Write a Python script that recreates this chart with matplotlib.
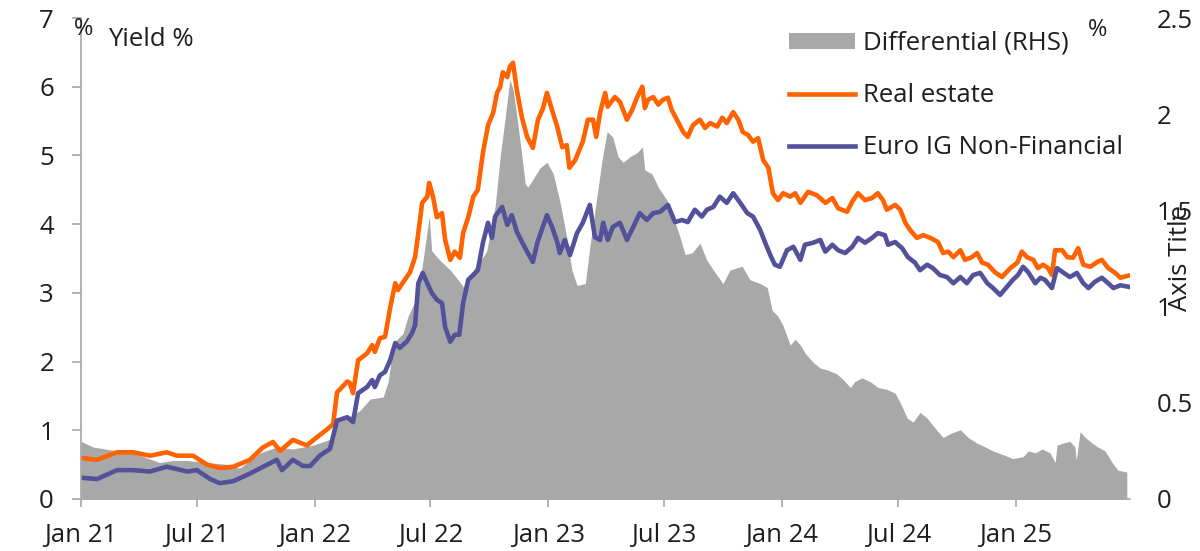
import matplotlib
matplotlib.use("Agg")
import matplotlib.pyplot as plt
import pandas as pd

# ---------------- data ----------------
start = pd.Timestamp("2021-01-01")

orange_days = [0,25,56,81,108,134,150,175,197,217,
               238,264,284,300,311,331,353,366,384,394,
               400,416,420,425,433,447,455,459,467,475,
               483,491,495,506,514,522,527,533,541,544,
               550,556,564,569,577,584,592,597,605,613,
               620,628,636,644,650,655,659,666,670,675,
               681,689,697,702,706,714,722,728,736,744,
               752,759,763,772,780,784,792,800,805,811,
               819,823,834,842,853,861,869,877,881,886,
               894,902,909,917,923,931,941,948,956,967,
               975,983,994,1002,1009,1019,1027,1034,1042,1050,
               1058,1066,1074,1081,1089,1097,1108,1116,1124,1136,
               1150,1163,1174,1183,1197,1205,1214,1225,1236,1245,
               1253,1259,1272,1280,1288,1295,1306,1316,1327,1339,
               1347,1355,1363,1374,1381,1392,1400,1408,1417,1428,
               1439,1452,1463,1470,1478,1488,1495,1503,1511,1517,
               1522,1533,1541,1550,1558,1566,1577,1588,1595,1605,
               1616,1624,1636]
real_estate = [0.60,0.57,0.68,0.68,0.63,0.68,0.63,0.63,0.50,0.45,
               0.47,0.57,0.75,0.83,0.70,0.86,0.78,0.88,1.01,1.09,
               1.55,1.71,1.69,1.54,2.02,2.12,2.24,2.14,2.34,2.36,
               2.78,3.14,3.04,3.19,3.30,3.52,3.87,4.31,4.40,4.60,
               4.40,4.10,4.16,3.77,3.48,3.60,3.51,3.87,4.10,4.40,
               4.50,5.04,5.44,5.62,5.91,6.00,6.21,6.14,6.29,6.35,
               5.95,5.55,5.27,5.18,5.11,5.52,5.69,5.91,5.66,5.42,
               5.12,5.15,4.82,4.93,5.11,5.20,5.52,5.52,5.27,5.62,
               5.91,5.71,5.85,5.78,5.52,5.66,5.85,6.00,5.69,5.81,
               5.85,5.74,5.81,5.84,5.66,5.52,5.34,5.27,5.44,5.52,
               5.40,5.47,5.42,5.55,5.47,5.63,5.52,5.34,5.30,5.20,
               5.25,4.93,4.82,4.45,4.35,4.45,4.40,4.45,4.31,4.47,
               4.42,4.31,4.38,4.23,4.18,4.33,4.45,4.35,4.38,4.45,
               4.35,4.21,4.28,4.21,4.02,3.92,3.80,3.84,3.80,3.74,
               3.58,3.60,3.52,3.62,3.48,3.52,3.58,3.44,3.41,3.30,
               3.23,3.36,3.44,3.60,3.52,3.48,3.36,3.41,3.36,3.26,
               3.62,3.62,3.52,3.51,3.65,3.41,3.38,3.45,3.48,3.36,
               3.29,3.22,3.25]

purple_days = [0,25,56,81,108,134,166,181,202,217,
               238,264,291,306,314,331,347,358,373,389,
               400,416,425,433,447,455,459,467,475,483,
               491,498,509,517,522,527,534,541,548,556,
               564,569,577,584,591,597,605,613,620,628,
               636,642,647,658,666,673,681,689,697,706,
               713,720,728,736,744,748,756,764,775,784,
               795,803,811,816,823,831,842,853,863,873,
               884,894,905,917,928,939,948,959,970,978,
               988,998,1009,1019,1030,1041,1050,1061,1069,1077,
               1084,1092,1103,1113,1124,1131,1144,1155,1163,1174,
               1183,1194,1205,1214,1225,1236,1245,1256,1261,1272,
               1283,1292,1303,1311,1322,1331,1342,1353,1363,1374,
               1384,1394,1405,1416,1425,1436,1447,1456,1464,1472,
               1480,1491,1499,1506,1517,1525,1534,1545,1556,1566,
               1574,1584,1595,1605,1613,1624,1636]
euro_ig_nonfin = [0.31,0.29,0.42,0.42,0.40,0.47,0.40,0.42,0.29,0.23,
                  0.26,0.37,0.50,0.57,0.42,0.57,0.48,0.48,0.63,0.73,
                  1.14,1.19,1.12,1.54,1.63,1.73,1.63,1.80,1.85,2.02,
                  2.27,2.20,2.29,2.41,2.53,3.14,3.29,3.14,3.00,2.90,
                  2.85,2.50,2.29,2.39,2.39,2.85,3.19,3.26,3.33,3.73,
                  4.02,3.80,4.11,4.25,3.99,4.13,3.89,3.74,3.60,3.45,
                  3.73,3.92,4.13,3.96,3.74,3.58,3.77,3.55,3.87,4.02,
                  4.28,3.81,3.77,4.02,3.77,3.96,4.02,3.77,3.96,4.16,
                  4.06,4.16,4.18,4.28,4.03,4.06,4.03,4.21,4.11,4.21,
                  4.25,4.40,4.31,4.45,4.31,4.16,4.11,3.92,3.73,3.55,
                  3.41,3.38,3.62,3.67,3.48,3.70,3.73,3.77,3.60,3.70,
                  3.62,3.58,3.67,3.80,3.73,3.80,3.87,3.84,3.70,3.74,
                  3.65,3.52,3.44,3.33,3.41,3.36,3.26,3.23,3.14,3.23,
                  3.14,3.26,3.29,3.14,3.07,2.97,3.09,3.19,3.26,3.38,
                  3.30,3.14,3.22,3.19,3.07,3.36,3.30,3.23,3.29,3.14,
                  3.07,3.16,3.22,3.14,3.07,3.11,3.09]

diff_days = [0,19,56,81,123,144,166,197,228,248,
             280,306,331,363,389,400,420,436,452,472,
             480,488,503,511,525,534,544,548,561,577,
             589,598,608,623,634,647,655,663,670,675,
             681,689,694,698,706,717,728,738,748,759,
             767,775,788,795,806,814,822,831,839,847,
             858,869,877,881,892,902,916,925,936,944,
             955,967,978,988,1003,1014,1033,1045,1061,1072,
             1080,1089,1097,1108,1116,1124,1131,1144,1155,1167,
             1181,1191,1202,1209,1220,1233,1245,1259,1272,1280,
             1291,1300,1311,1322,1334,1347,1358,1374,1386,1400,
             1413,1425,1441,1456,1472,1480,1491,1502,1514,1522,
             1525,1534,1545,1553,1555,1561,1569,1580,1589,1600,
             1611,1620,1634]
differential = [0.30,0.27,0.25,0.24,0.19,0.20,0.20,0.19,0.18,0.16,
                0.24,0.27,0.26,0.28,0.31,0.41,0.43,0.46,0.52,0.53,
                0.61,0.81,0.86,0.95,1.05,1.23,1.47,1.29,1.24,1.19,
                1.14,1.10,1.17,1.23,1.29,1.52,1.78,1.99,2.18,2.13,
                1.99,1.78,1.64,1.62,1.66,1.72,1.75,1.69,1.55,1.36,
                1.19,1.11,1.12,1.31,1.57,1.76,1.91,1.88,1.78,1.75,
                1.78,1.80,1.83,1.71,1.69,1.62,1.55,1.47,1.36,1.27,
                1.28,1.33,1.24,1.19,1.12,1.19,1.21,1.14,1.12,1.10,
                0.98,0.95,0.90,0.80,0.83,0.80,0.76,0.71,0.68,0.67,
                0.65,0.62,0.58,0.61,0.63,0.61,0.58,0.57,0.55,0.50,
                0.42,0.40,0.45,0.42,0.37,0.32,0.34,0.36,0.32,0.29,
                0.27,0.25,0.23,0.21,0.22,0.25,0.24,0.26,0.24,0.19,
                0.28,0.29,0.30,0.27,0.20,0.35,0.32,0.29,0.27,0.25,
                0.19,0.15,0.14]

xtick_dates = ["2021-01-01","2021-07-01","2022-01-01","2022-07-01","2023-01-01",
               "2023-07-01","2024-01-01","2024-07-01","2025-01-01"]
xtick_labels = ["Jan 21","Jul 21","Jan 22","Jul 22","Jan 23",
                "Jul 23","Jan 24","Jul 24","Jan 25"]
left_ticks = [0,1,2,3,4,5,6,7]
right_ticks = [0,0.5,1,1.5,2,2.5]
right_labels = ["0","0.5","1","1.5","2","2.5"]

# ---------------- style ----------------
plt.rcParams['font.family'] = ['Open Sans', 'DejaVu Sans']
FS = 18.5
TXT = '#1e1e1e'
AX = '#a6a6a6'
ORANGE = '#FF6200'
PURPLE = '#525199'
GREY = '#A8A8A8'

W, H = 1200, 551
fig = plt.figure(figsize=(W/100, H/100), dpi=100)
x0, x1, ybot, ytop = 81, 1130, 499, 18
ax = fig.add_axes([x0/W, 1-ybot/H, (x1-x0)/W, (ybot-ytop)/H])
ax2 = ax.twinx()

to_dates = lambda d: start + pd.to_timedelta(d, unit="D")

fill = ax2.fill_between(to_dates(diff_days), 0, differential, color=GREY, lw=0,
                        label="Differential (RHS)")
l1, = ax.plot(to_dates(orange_days), real_estate, color=ORANGE, lw=3.3,
              label="Real estate", solid_joinstyle='round')
l2, = ax.plot(to_dates(purple_days), euro_ig_nonfin, color=PURPLE, lw=3.3,
              label="Euro IG Non-Financial", solid_joinstyle='round')

ax.set_zorder(ax2.get_zorder() + 1)
ax.patch.set_visible(False)

ax.set_xlim(start, pd.Timestamp("2025-06-28"))
ax.set_ylim(0, 7)
ax2.set_ylim(0, 2.5)

ax.set_xticks(pd.to_datetime(xtick_dates))
ax.set_xticklabels(xtick_labels)
ax.set_yticks(left_ticks)
ax.set_yticklabels([str(t) for t in left_ticks])
ax2.set_yticks(right_ticks)
ax2.set_yticklabels(right_labels)

for s in ['top', 'right']:
    ax.spines[s].set_visible(False)
for s in ax2.spines.values():
    s.set_visible(False)
ax.spines['left'].set_color(AX)
ax.spines['bottom'].set_color(AX)
ax.spines['left'].set_linewidth(1.2)
ax.spines['bottom'].set_linewidth(1.2)

ax.tick_params(axis='y', length=6.5, width=1.2, color=AX, pad=13,
               labelsize=FS, labelcolor=TXT)
ax.tick_params(axis='x', length=6, width=1.2, color=AX, pad=11,
               labelsize=FS, labelcolor=TXT)
ax2.tick_params(axis='y', length=0, pad=19, labelsize=FS, labelcolor=TXT)

ax2.set_ylabel("Axis Title", fontsize=FS, color=TXT)
ax2.yaxis.label.set_va('center')
ax2.yaxis.set_label_coords((1180-x0)/(x1-x0), (ybot-258)/(ybot-ytop))

fig.text(84/W, 1-29/H, "%", fontsize=17, color=TXT, ha='center', va='center')
fig.text(108/W, 1-40/H, "Yield %", fontsize=FS, color=TXT, ha='left', va='center')
fig.text(1098/W, 1-30/H, "%", fontsize=17, color=TXT, ha='center', va='center')

leg = ax.legend([fill, l1, l2],
                ["Differential (RHS)", "Real estate", "Euro IG Non-Financial"],
                loc='upper left', bbox_to_anchor=(789/W, 1-31/H),
                bbox_transform=fig.transFigure, frameon=False, borderpad=0,
                borderaxespad=0, handlelength=2.55, handletextpad=0.33,
                labelspacing=1.06, handleheight=0.62, fontsize=FS)
for t in leg.get_texts():
    t.set_color(TXT)

fig.savefig("out.png", dpi=100)
